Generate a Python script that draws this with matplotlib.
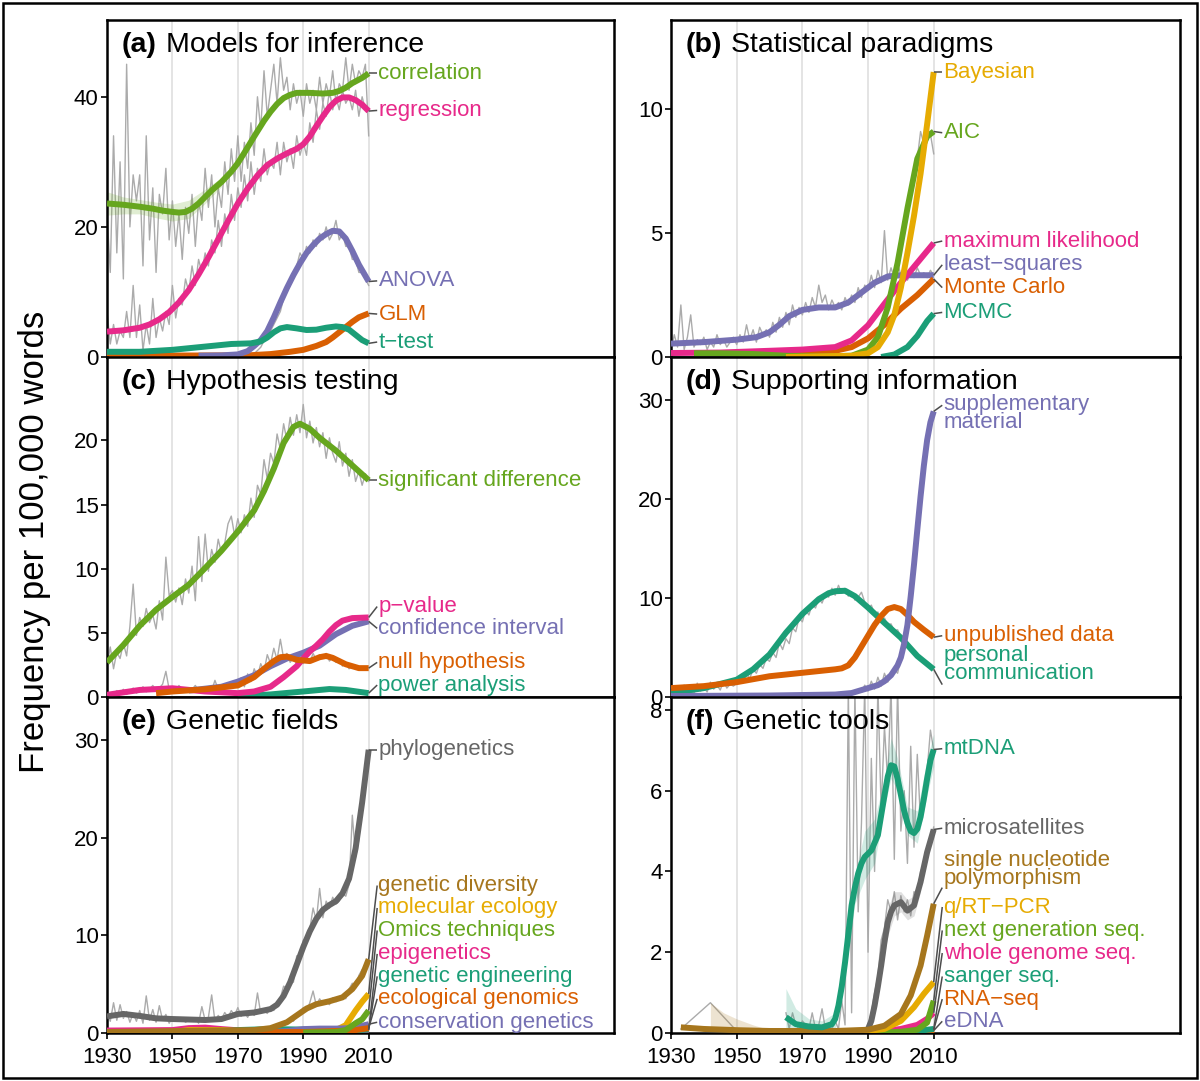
import numpy as np
import matplotlib
matplotlib.use('Agg')
import matplotlib.pyplot as plt
from matplotlib.patches import Rectangle

plt.rcParams['font.family'] = ['Liberation Sans', 'DejaVu Sans']

# Dark2 palette
TEAL, ORANGE, PURPLE, PINK = '#1B9E77', '#D95F02', '#7570B3', '#E7298A'
GREEN, YELLOW, BROWN, GRAY = '#66A61E', '#E6AB02', '#A6761D', '#666666'
RAW = '#ABABAB'
MINUS = '\u2212'

# %% (a) Models for inference -- smoothed trends
A_CORR_YR = [1930, 1935, 1940, 1944, 1947, 1950, 1952, 1954, 1956, 1958, 1960, 1962, 1965, 1968, 1970, 1972, 1975,
             1978, 1980, 1982, 1984, 1986, 1988, 1992, 1996, 1999, 2001, 2003, 2005, 2008, 2010]
A_CORR = [23.6, 23.4, 23.1, 22.8, 22.5, 22.3, 22.2, 22.3, 22.8, 23.6, 24.6, 25.6, 26.9, 28.5, 29.8, 31.4, 33.9,
          36.3, 37.7, 38.9, 39.8, 40.3, 40.6, 40.6, 40.5, 40.6, 40.9, 41.4, 42.1, 42.9, 43.6]
A_REGR_YR = [1930, 1935, 1940, 1943, 1946, 1949, 1952, 1955, 1958, 1961, 1964, 1967, 1970, 1973, 1976, 1979, 1982,
             1985, 1988, 1990, 1992, 1994, 1996, 1998, 2000, 2002, 2004, 2006, 2008, 2010]
A_REGR = [3.9, 4.1, 4.5, 5.0, 5.8, 6.9, 8.4, 10.3, 12.7, 15.3, 18.1, 20.9, 23.6, 25.9, 27.9, 29.5, 30.5,
          31.3, 32.0, 32.7, 33.9, 35.5, 37.0, 38.4, 39.4, 39.9, 39.9, 39.5, 38.8, 37.8]
A_ANOVA_YR = [1958, 1965, 1970, 1973, 1975, 1977, 1979, 1981, 1983, 1985, 1987, 1989, 1991, 1993, 1995, 1997, 1999,
              2001, 2003, 2005, 2007, 2010]
A_ANOVA = [0.2, 0.25, 0.4, 0.9, 1.7, 2.6, 4.0, 6.1, 8.4, 10.6, 12.6, 14.4, 16.0, 17.2, 18.2, 18.9, 19.4,
           19.3, 18.2, 16.3, 14.2, 11.6]
A_GLM_YR = [1930, 1973, 1980, 1986, 1990, 1994, 1997, 1999, 2001, 2003, 2005, 2007, 2010]
A_GLM = [0.2, 0.25, 0.45, 0.8, 1.1, 1.7, 2.3, 3.0, 3.8, 4.6, 5.4, 6.1, 6.7]
A_TTEST_YR = [1930, 1940, 1950, 1960, 1968, 1974, 1977, 1979, 1981, 1983, 1985, 1988, 1991, 1994, 1997, 2000,
              2002, 2004, 2006, 2008, 2010]
A_TTEST = [0.8, 0.8, 1.1, 1.6, 2.0, 2.1, 2.4, 3.0, 3.8, 4.4, 4.6, 4.4, 4.15, 4.2, 4.5, 4.7,
           4.6, 4.2, 3.4, 2.6, 2.1]
A_CORR_BAND_YR = [1930, 1935, 1940, 1945, 1950, 1955, 1960, 1965]
A_CORR_BAND_LO = [21.8, 22.0, 22.0, 21.4, 20.9, 21.3, 23.6, 26.2]
A_CORR_BAND_HI = [25.4, 24.6, 24.2, 23.8, 23.5, 24.1, 25.8, 27.6]
# yearly raw counts 1930-2010
A_CORR_RAW = [22, 13, 34, 16, 30, 12, 45, 20, 28, 24,
              28, 14, 34, 18, 26, 13, 25, 22, 29, 18,
              24, 17, 22, 15, 23, 19, 25, 17, 24, 21,
              29, 23, 28, 20, 26, 23, 30, 25, 32, 27,
              34, 27, 33, 29, 36, 31, 40, 35, 44, 37,
              41, 45, 39, 46, 41, 43, 38, 42, 39, 41,
              37, 42, 39, 41, 38, 43, 39, 42, 40, 44,
              39, 42, 41, 46, 41, 45, 42, 44, 43, 45,
              34]
A_REGR_RAW = [7, 2, 5, 2, 4, 3, 7, 3, 11, 3,
              8, 1, 5, 2, 9, 3, 6, 4, 7, 5,
              11, 6, 9, 8, 12, 10, 14, 11, 15, 13,
              16, 14, 18, 16, 21, 17, 22, 19, 25, 21,
              26, 23, 28, 24, 30, 25, 29, 27, 32, 28,
              30, 29, 33, 28, 33, 30, 32, 29, 34, 31,
              33, 31, 36, 33, 38, 35, 39, 37, 41, 38,
              40, 38, 41, 39, 40, 38, 41, 37, 40, 38,
              38]
A_ANOVA_RAW = [0.5, 1, 1.5, 2.5, 3, 4, 5, 6, 7, 9,
               10, 11, 13, 14, 16, 15, 17, 16, 18, 17,
               19, 18, 20, 18, 19, 21, 18, 19, 17, 17,
               15, 15, 13, 13, 12, 11]  # 1975-2010

# %% (b) Statistical paradigms
B_LSQ_YR = [1930, 1940, 1950, 1956, 1960, 1963, 1966, 1970, 1975, 1980, 1984, 1988, 1992, 1996, 2000, 2005, 2010]
B_LSQ = [0.54, 0.6, 0.7, 0.8, 1.0, 1.3, 1.65, 1.9, 2.0, 2.0, 2.2, 2.6, 3.0, 3.25, 3.3, 3.3, 3.3]
B_ML_YR = [1930, 1945, 1960, 1970, 1980, 1985, 1990, 1995, 2000, 2005, 2010]
B_ML = [0.16, 0.18, 0.25, 0.3, 0.4, 0.67, 1.28, 2.15, 3.0, 3.8, 4.6]
B_MC_YR = [1955, 1970, 1980, 1985, 1990, 1995, 2000, 2005, 2010]
B_MC = [0.05, 0.1, 0.25, 0.4, 0.75, 1.3, 1.95, 2.5, 3.15]
B_BAYES_YR = [1965, 1985, 1990, 1993, 1996, 1998, 2000, 2002, 2004, 2006, 2008, 2010]
B_BAYES = [0.0, 0.05, 0.15, 0.4, 1.0, 1.7, 2.8, 4.2, 5.7, 7.4, 9.4, 11.5]
B_AIC_YR = [1937, 1945, 1955, 1965, 1975, 1985, 1990, 1993, 1996, 1999, 2002, 2005, 2008, 2010]
B_AIC = [0.15, 0.15, 0.12, 0.05, 0.02, 0.05, 0.3, 0.8, 2.0, 3.8, 6.0, 8.0, 8.9, 9.1]
B_MCMC_YR = [1994, 1998, 2002, 2005, 2008, 2010]
B_MCMC = [0.0, 0.1, 0.4, 0.85, 1.45, 1.75]
B_LSQ_RAW = [0.3, 0.9, 0.4, 2.1, 0.3, 0.8, 1.7, 0.4, 0.7, 0.5,
             0.8, 0.3, 0.6, 0.4, 0.9, 0.5, 0.7, 0.4, 0.6, 0.8,
             0.5, 0.9, 0.6, 1.3, 0.7, 1.1, 0.6, 1.2, 0.9, 1.1,
             0.8, 1.4, 1.0, 1.6, 1.2, 1.8, 1.3, 2.1, 1.6, 2.0,
             1.7, 2.2, 1.8, 2.4, 2.0, 2.9, 2.2, 2.5, 1.9, 2.3,
             2.0, 2.2, 1.9, 2.4, 2.1, 2.5, 2.2, 2.8, 2.4, 2.9,
             2.7, 3.3, 2.8, 3.5, 3.0, 5.1, 3.1, 3.6, 3.2, 3.8,
             3.3, 3.5, 3.1, 3.4, 3.2, 3.6, 3.3, 3.4, 3.2, 3.5,
             3.3]
B_AIC_RAW = [1.2, 1.8, 2.6, 3.0, 3.8, 4.5, 5.2, 5.9, 6.8, 7.5, 8.0, 9.1, 8.6, 8.8, 9.0, 8.2]  # 1995-2010

# %% (c) Hypothesis testing
C_SIG_YR = [1930, 1935, 1940, 1945, 1950, 1955, 1960, 1965, 1970, 1975, 1978, 1981, 1984, 1987, 1989, 1992,
            1995, 2000, 2005, 2010]
C_SIG = [2.7, 4.05, 5.55, 6.8, 7.8, 8.75, 10.05, 11.4, 12.9, 14.55, 16.05, 17.8, 19.8, 21.05, 21.3, 20.9,
         20.2, 19.2, 18.05, 16.9]
C_PVAL_YR = [1930, 1940, 1950, 1960, 1970, 1975, 1980, 1984, 1988, 1990, 1992, 1994, 1996, 1998, 2000, 2002,
             2005, 2010]
C_PVAL = [0.17, 0.55, 0.68, 0.43, 0.3, 0.43, 0.8, 1.55, 2.4, 3.0, 3.55, 4.0, 4.5, 5.1, 5.6, 5.95, 6.15, 6.2]
C_CI_YR = [1955, 1965, 1970, 1975, 1980, 1985, 1990, 1995, 2000, 2005, 2010]
C_CI = [0.5, 0.8, 1.2, 1.7, 2.4, 3.0, 3.45, 4.0, 4.9, 5.55, 5.9]
C_NULL_YR = [1945, 1950, 1960, 1970, 1975, 1978, 1981, 1983, 1985, 1988, 1992, 1995, 1997, 1999, 2003, 2007, 2010]
C_NULL = [0.3, 0.43, 0.6, 0.9, 1.55, 2.2, 2.8, 3.1, 3.15, 2.9, 2.8, 3.1, 3.2, 3.05, 2.55, 2.25, 2.25]
C_POWER_YR = [1970, 1980, 1990, 1998, 2003, 2010]
C_POWER = [0.05, 0.2, 0.43, 0.62, 0.55, 0.3]
C_SIG_RAW = [2.5, 3.9, 2.2, 3.5, 3.0, 4.2, 3.2, 5.5, 8.8, 4.8,
             6.2, 5.5, 6.9, 5.8, 6.4, 5.3, 7.5, 6.0, 10.9, 7.9,
             8.3, 7.4, 8.5, 7.2, 9.2, 8.1, 10.2, 7.5, 12.5, 9.0,
             12.7, 9.8, 11.5, 10.5, 12.3, 11.2, 12.0, 13.5, 14.1, 12.6,
             13.9, 12.8, 14.2, 13.3, 15.5, 14.0, 16.5, 15.8, 18.5, 17.0,
             19.0, 18.2, 20.5, 19.3, 21.3, 20.0, 21.8, 20.4, 22.0, 20.6,
             22.8, 20.2, 21.5, 19.8, 21.0, 19.5, 20.6, 18.6, 20.2, 19.0,
             18.3, 19.9, 18.0, 19.0, 17.2, 18.5, 16.8, 17.6, 16.5, 17.4,
             16.8]
C_LOW_RAW = [0.1, 0.3, 0.2, 0.5, 0.3, 0.6, 0.2, 0.4, 0.7, 0.3,
             0.5, 0.8, 0.4, 0.6, 0.9, 0.5, 0.7, 1.0, 2.0, 0.6,
             0.8, 0.5, 0.9, 0.6, 0.7, 0.4, 0.6, 0.9, 0.5, 0.7,
             0.4, 0.8, 0.5, 1.3, 0.6, 0.9, 0.7, 1.1, 0.8, 1.2]  # 1930-1969
C_NULL_RAW = [1.0, 1.5, 0.8, 1.8, 1.2, 2.2, 1.6, 2.6, 2.0, 3.3,
              2.6, 3.8, 2.9, 4.5, 3.0, 3.4, 2.7, 3.1, 2.5, 2.9,
              2.6, 3.1, 2.7, 3.4, 2.9, 3.3, 3.0, 3.4, 2.8, 3.1,
              2.7, 2.9, 2.4, 2.6, 2.2, 2.4]  # 1970-2005

# %% (d) Supporting information
D_PERS_YR = [1930, 1940, 1950, 1955, 1960, 1965, 1970, 1975, 1978, 1980, 1983, 1986, 1990, 1995, 2000, 2005, 2010]
D_PERS = [0.4, 0.9, 1.75, 2.8, 4.3, 6.5, 8.4, 9.9, 10.5, 10.7, 10.75, 10.2, 9.05, 7.5, 6.0, 4.15, 2.8]
D_UNPUB_YR = [1930, 1940, 1950, 1960, 1970, 1980, 1982, 1984, 1986, 1988, 1990, 1992, 1994, 1996, 1998, 2000,
              2002, 2004, 2007, 2010]
D_UNPUB = [0.9, 1.1, 1.5, 2.1, 2.45, 2.8, 2.9, 3.2, 4.0, 5.1, 6.2, 7.3, 8.2, 8.9, 9.1, 8.9,
           8.3, 7.6, 6.8, 6.05]
D_SUPP_YR = [1930, 1960, 1980, 1985, 1990, 1993, 1995, 1997, 1999, 2000, 2001, 2002, 2003, 2004, 2005, 2006,
             2007, 2008, 2009, 2010]
D_SUPP = [0.1, 0.15, 0.25, 0.4, 0.9, 1.2, 1.6, 2.2, 3.2, 4.0, 5.4, 7.3, 10.2, 13.4, 16.9, 20.3,
          23.4, 26.0, 27.8, 28.9]
D_PERS_RAW = [0.6, 0.2, 0.9, 0.4, 1.2, 0.5, 0.8, 0.3, 1.4, 0.6,
              1.0, 0.5, 1.5, 0.8, 1.2, 0.7, 1.6, 0.9, 1.3, 1.1,
              1.4, 2.0, 1.5, 2.3, 1.9, 2.8, 2.4, 3.3, 2.9, 3.9,
              3.6, 4.5, 4.0, 5.5, 4.8, 5.9, 5.4, 7.0, 6.6, 8.0,
              7.6, 8.8, 8.3, 9.4, 9.0, 10.0, 9.5, 10.4, 10.1, 11.0,
              10.3, 11.3, 10.5, 11.0, 10.2, 10.6, 9.8, 10.1, 10.6, 9.6,
              8.8, 9.3, 8.4, 8.6, 7.8, 8.0, 7.3, 7.4, 6.7, 6.8,
              6.1]  # 1930-2000
D_SUPP_RAW = [0.5, 1.2, 0.6, 1.6, 0.8, 2.0, 1.1, 2.4, 1.5, 2.2, 2.8, 2.4, 3.9, 5.2, 7.0]  # 1988-2002

# %% (e) Genetic fields
E_PHYLO_YR = [1930, 1935, 1940, 1945, 1950, 1960, 1965, 1970, 1975, 1980, 1982, 1984, 1986, 1988, 1990, 1992,
              1994, 1996, 1998, 2000, 2002, 2004, 2006, 2008, 2010]
E_PHYLO = [1.7, 1.95, 1.75, 1.5, 1.43, 1.33, 1.43, 1.95, 2.1, 2.45, 2.9, 3.8, 5.2, 7.0, 8.8, 10.4,
           11.7, 12.6, 13.1, 13.5, 14.3, 15.8, 18.9, 23.6, 29.0]
E_GDIV_YR = [1930, 1975, 1980, 1985, 1988, 1991, 1994, 1998, 2002, 2005, 2008, 2010]
E_GDIV = [0.1, 0.3, 0.5, 1.1, 1.8, 2.5, 2.95, 3.25, 3.65, 4.5, 5.85, 7.55]
E_MOLEC_YR = [1950, 1955, 1965, 1975, 1995, 2000, 2003, 2006, 2008, 2010]
E_MOLEC = [0.1, 0.3, 0.3, 0.1, 0.1, 0.3, 0.8, 2.3, 3.2, 4.0]
E_OMICS_YR = [1990, 2000, 2003, 2006, 2008, 2010]
E_OMICS = [0.05, 0.1, 0.3, 1.0, 1.4, 2.3]
E_EPI_YR = [1930, 1950, 1955, 1960, 1965, 1975, 1990, 2000, 2005, 2010]
E_EPI = [0.25, 0.3, 0.5, 0.55, 0.4, 0.15, 0.1, 0.15, 0.2, 0.3]
E_GENG_YR = [1960, 1966, 1970, 1980, 1990, 2000, 2010]
E_GENG = [0.0, 0.15, 0.3, 0.4, 0.35, 0.2, 0.35]
E_ECOG_YR = [1930, 1990, 2000, 2005, 2010]
E_ECOG = [0.05, 0.1, 0.2, 0.25, 0.5]
E_CONS_YR = [1975, 1985, 1990, 1995, 2000, 2005, 2010]
E_CONS = [0.0, 0.2, 0.4, 0.45, 0.45, 0.5, 0.9]
E_PHYLO_RAW = [2.2, 1.2, 3.1, 1.3, 2.9, 1.5, 2.2, 1.1, 2.0, 1.2,
               2.3, 1.0, 3.8, 1.3, 2.4, 1.1, 2.8, 1.3, 1.9, 1.0,
               1.6, 1.3, 1.2, 1.5, 1.1, 1.3, 1.2, 1.5, 1.0, 2.7,
               1.3, 1.6, 3.9, 1.2, 1.8, 1.4, 2.1, 1.6, 2.3, 1.8,
               2.6, 1.7, 2.1, 1.6, 2.2, 1.8, 4.1, 2.0, 2.3, 2.0,
               2.6, 2.3, 3.0, 3.6, 4.8, 4.5, 5.8, 5.2, 7.9, 7.5,
               9.5, 9.8, 10.6, 12.8, 11.5, 14.8, 11.8, 13.5, 12.8, 13.9,
               13.2, 13.5, 14.3, 14.0, 15.2, 22.3, 18.0, 19.8, 23.5, 26.0,
               29.0]
E_GDIV_RAW = [1.0, 1.5, 1.2, 1.8, 2.0, 2.6, 2.2, 3.1, 4.3, 2.8,
              3.5, 3.0, 3.3, 2.9, 3.6, 3.2, 3.4, 3.8, 3.5, 4.5,
              5.1, 4.6, 5.9, 6.5, 6.8, 7.5]  # 1985-2010

# %% (f) Genetic tools
F_MTDNA_YR = [1965, 1968, 1972, 1976, 1979, 1980, 1981, 1982, 1983, 1984, 1985, 1986, 1987, 1988, 1989, 1991,
              1993, 1995, 1996, 1997, 1998, 1999, 2000, 2001, 2002, 2003, 2004, 2005, 2006, 2007, 2008, 2009, 2010]
F_MTDNA = [0.39, 0.22, 0.16, 0.14, 0.22, 0.35, 0.68, 1.15, 1.75, 2.45, 3.16, 3.6, 3.95, 4.2, 4.36, 4.52,
           4.9, 5.88, 6.35, 6.63, 6.6, 6.3, 5.9, 5.5, 5.2, 5.0, 4.95, 5.05, 5.35, 5.8, 6.3, 6.75, 7.02]
F_MICRO_YR = [1990, 1991, 1992, 1993, 1994, 1995, 1996, 1997, 1998, 2000, 2002, 2004, 2006, 2008, 2010]
F_MICRO = [0.1, 0.3, 0.68, 1.15, 1.67, 2.25, 2.74, 3.0, 3.16, 3.24, 3.03, 3.16, 3.74, 4.48, 5.04]
F_SNP_YR = [1933, 1940, 1950, 1960, 1970, 1980, 1990, 1995, 2000, 2003, 2006, 2008, 2010]
F_SNP = [0.14, 0.1, 0.07, 0.05, 0.05, 0.05, 0.08, 0.18, 0.47, 0.93, 1.67, 2.41, 3.2]
F_QPCR_YR = [1985, 1990, 1995, 2000, 2004, 2007, 2010]
F_QPCR = [0.0, 0.05, 0.1, 0.3, 0.64, 0.97, 1.26]
F_NGS_YR = [1990, 2000, 2005, 2008, 2010]
F_NGS = [0.0, 0.03, 0.08, 0.26, 0.8]
F_WGS_YR = [1986, 1995, 2000, 2005, 2008, 2010]
F_WGS = [0.0, 0.05, 0.1, 0.2, 0.35, 0.5]
F_SANGER_YR = [1992, 2000, 2005, 2010]
F_SANGER = [0.0, 0.05, 0.05, 0.1]
F_RNA_YR = [2005, 2008, 2010]
F_RNA = [0.0, 0.02, 0.08]
F_EDNA_YR = [1993, 2000, 2005, 2010]
F_EDNA = [0.05, 0.05, 0.05, 0.06]
F_MT_BAND_YR = [1965, 1968, 1972, 1976, 1980, 1983, 1986, 1989, 1992, 1995, 1997, 1999, 2002, 2005, 2008, 2010]
F_MT_BAND_LO = [0.0, 0.0, 0.05, 0.05, 0.1, 1.4, 3.2, 3.8, 4.2, 5.6, 6.3, 6.0, 4.9, 4.7, 5.9, 6.6]
F_MT_BAND_HI = [1.1, 0.6, 0.35, 0.3, 0.5, 2.2, 3.9, 5.0, 5.3, 6.3, 7.3, 6.8, 5.6, 5.5, 6.8, 7.4]
F_MICRO_BAND_YR = [1994, 1996, 1998, 2000, 2002, 2004, 2006]
F_MICRO_BAND_LO = [1.4, 2.4, 2.9, 3.0, 2.8, 2.9, 3.5]
F_MICRO_BAND_HI = [1.9, 3.1, 3.5, 3.5, 3.3, 3.4, 4.0]
F_SNP_BAND_YR = [1942, 1946, 1950, 1955, 1960]
F_SNP_BAND_LO = [0.05, 0.05, 0.05, 0.04, 0.04]
F_SNP_BAND_HI = [0.75, 0.5, 0.35, 0.2, 0.08]
F_SNP_RAW_YR = [1933, 1942, 1950]
F_SNP_RAW = [0.1, 0.75, 0.05]
F_MTDNA_RAW = [0.5, 0.1, 0.5, 0.2, 0.1, 0.3, 0.2, 0.1, 0.5, 0.1,
               0.2, 0.6, 0.1, 0.2, 0.1, 0.3, 0.1, 0.8, 0.2, 8.6,
               0.5, 8.6, 3.0, 5.2, 8.6, 2.0, 6.8, 4.0, 8.6, 5.5,
               7.6, 6.2, 8.6, 4.3, 8.6, 5.0, 6.0, 4.2, 7.1, 4.6,
               6.9, 5.2, 6.0, 6.5, 7.5, 7.0]  # 1965-2010
F_MICRO_RAW = [0.2, 0.5, 1.0, 1.4, 2.3, 2.6, 3.3, 3.0, 3.5, 2.8,
               3.4, 3.0, 3.3, 2.9, 3.5, 3.4, 4.0, 4.2, 4.6, 4.8, 5.1]  # 1990-2010


def yrs(start, vals):
    return np.arange(start, start + len(vals))


# panel specs: (yrs, vals, colour, label, label_y)
PANELS = [
    dict(letter='(a)', title='Models for inference', ymax=51.8, yticks=[0, 20, 40],
         raw=[(yrs(1930, A_CORR_RAW), A_CORR_RAW), (yrs(1930, A_REGR_RAW), A_REGR_RAW),
              (yrs(1975, A_ANOVA_RAW), A_ANOVA_RAW)],
         bands=[(A_CORR_BAND_YR, A_CORR_BAND_LO, A_CORR_BAND_HI, GREEN)],
         series=[(A_GLM_YR, A_GLM, ORANGE, 'GLM', 6.6),
                 (A_ANOVA_YR, A_ANOVA, PURPLE, 'ANOVA', 11.7),
                 (A_TTEST_YR, A_TTEST, TEAL, 't' + MINUS + 'test', 2.3),
                 (A_CORR_YR, A_CORR, GREEN, 'correlation', 43.6),
                 (A_REGR_YR, A_REGR, PINK, 'regression', 37.9)]),
    dict(letter='(b)', title='Statistical paradigms', ymax=13.6, yticks=[0, 5, 10],
         raw=[(yrs(1930, B_LSQ_RAW), B_LSQ_RAW), (yrs(1995, B_AIC_RAW), B_AIC_RAW)],
         bands=[],
         series=[(B_LSQ_YR, B_LSQ, PURPLE, 'least' + MINUS + 'squares', 3.72),
                 (B_MCMC_YR, B_MCMC, TEAL, 'MCMC', 1.8),
                 (B_MC_YR, B_MC, ORANGE, 'Monte Carlo', 2.8),
                 (B_ML_YR, B_ML, PINK, 'maximum likelihood', 4.68),
                 (B_AIC_YR, B_AIC, GREEN, 'AIC', 9.05),
                 (B_BAYES_YR, B_BAYES, YELLOW, 'Bayesian', 11.5)]),
    dict(letter='(c)', title='Hypothesis testing', ymax=26.5, yticks=[0, 5, 10, 15, 20],
         raw=[(yrs(1930, C_SIG_RAW), C_SIG_RAW), (yrs(1930, C_LOW_RAW), C_LOW_RAW),
              (yrs(1970, C_NULL_RAW), C_NULL_RAW)],
         bands=[],
         series=[(C_SIG_YR, C_SIG, GREEN, 'significant difference', 16.9),
                 (C_POWER_YR, C_POWER, TEAL, 'power analysis', 0.93),
                 (C_CI_YR, C_CI, PURPLE, 'confidence interval', 5.35),
                 (C_PVAL_YR, C_PVAL, PINK, 'p' + MINUS + 'value', 7.05),
                 (C_NULL_YR, C_NULL, ORANGE, 'null hypothesis', 2.7)]),
    dict(letter='(d)', title='Supporting information', ymax=34.4, yticks=[0, 10, 20, 30],
         raw=[(yrs(1930, D_PERS_RAW), D_PERS_RAW), (yrs(1988, D_SUPP_RAW), D_SUPP_RAW)],
         bands=[],
         series=[(D_PERS_YR, D_PERS, TEAL, 'personal\ncommunication', 3.3),
                 (D_UNPUB_YR, D_UNPUB, ORANGE, 'unpublished data', 6.2),
                 (D_SUPP_YR, D_SUPP, PURPLE, 'supplementary\nmaterial', 28.7)]),
    dict(letter='(e)', title='Genetic fields', ymax=34.4, yticks=[0, 10, 20, 30],
         raw=[(yrs(1930, E_PHYLO_RAW), E_PHYLO_RAW), (yrs(1985, E_GDIV_RAW), E_GDIV_RAW)],
         bands=[],
         series=[(E_PHYLO_YR, E_PHYLO, GRAY, 'phylogenetics', 29.0),
                 (E_EPI_YR, E_EPI, PINK, 'epigenetics', 8.1),
                 (E_MOLEC_YR, E_MOLEC, YELLOW, 'molecular ecology', 12.8),
                 (E_GENG_YR, E_GENG, TEAL, 'genetic engineering', 5.8),
                 (E_CONS_YR, E_CONS, PURPLE, 'conservation genetics', 1.1),
                 (E_ECOG_YR, E_ECOG, ORANGE, 'ecological genomics', 3.5),
                 (E_OMICS_YR, E_OMICS, GREEN, 'Omics techniques', 10.5),
                 (E_GDIV_YR, E_GDIV, BROWN, 'genetic diversity', 15.1)]),
    dict(letter='(f)', title='Genetic tools', ymax=8.32, yticks=[0, 2, 4, 6, 8],
         raw=[(yrs(1965, F_MTDNA_RAW), F_MTDNA_RAW), (yrs(1990, F_MICRO_RAW), F_MICRO_RAW),
              (F_SNP_RAW_YR, F_SNP_RAW)],
         bands=[(F_MT_BAND_YR, F_MT_BAND_LO, F_MT_BAND_HI, TEAL),
                (F_MICRO_BAND_YR, F_MICRO_BAND_LO, F_MICRO_BAND_HI, GRAY),
                (F_SNP_BAND_YR, F_SNP_BAND_LO, F_SNP_BAND_HI, BROWN)],
         series=[(F_EDNA_YR, F_EDNA, PURPLE, 'eDNA', 0.29),
                 (F_RNA_YR, F_RNA, ORANGE, 'RNA' + MINUS + 'seq', 0.84),
                 (F_SANGER_YR, F_SANGER, TEAL, 'sanger seq.', 1.4),
                 (F_WGS_YR, F_WGS, PINK, 'whole genome seq.', 1.98),
                 (F_NGS_YR, F_NGS, GREEN, 'next generation seq.', 2.54),
                 (F_QPCR_YR, F_QPCR, YELLOW, 'q/RT' + MINUS + 'PCR', 3.12),
                 (F_MICRO_YR, F_MICRO, GRAY, 'microsatellites', 5.07),
                 (F_SNP_YR, F_SNP, BROWN, 'single nucleotide\npolymorphism', 4.05),
                 (F_MTDNA_YR, F_MTDNA, TEAL, 'mtDNA', 7.04)]),
]

# two-line labels: leader meets the label off-centre (in data units)
LEADER_SHIFT = {'supplementary\nmaterial': 0.2, 'personal\ncommunication': -0.5,
                'single nucleotide\npolymorphism': -0.45}

W, H = 1200, 1081
fig = plt.figure(figsize=(W / 100, H / 100), dpi=100)
fig.add_artist(Rectangle((3 / W, 3 / H), 1 - 6 / W, 1 - 6 / H, transform=fig.transFigure,
                         fill=False, lw=1.8, ec='black'))

col_x = [(107, 507), (671, 509)]
row_y = [(20, 357), (357, 697), (697, 1033)]

for i, p in enumerate(PANELS):
    r, c = divmod(i, 2)
    x0, w = col_x[c]
    top, bot = row_y[r]
    ax = fig.add_axes([x0 / W, 1 - bot / H, w / W, (bot - top) / H])
    ax.set_xlim(1930, 2085)
    ax.set_ylim(0, p['ymax'])
    for g in [1950, 1970, 1990, 2010]:
        ax.axvline(g, color='#DCDCDC', lw=1.1, zorder=0)
    for xr, yr in p['raw']:
        ax.plot(xr, yr, color=RAW, lw=1.0, zorder=1)
    for by, lo, hi, col in p['bands']:
        ax.fill_between(by, lo, hi, color=col, alpha=0.2, lw=0, zorder=1.5)
    for k, (sx, sy, col, lab, ly) in enumerate(p['series']):
        ax.plot(sx, sy, color=col, lw=4.3, zorder=3 + k * 0.01,
                solid_capstyle='butt', solid_joinstyle='round')
        lead_y = ly + LEADER_SHIFT.get(lab, 0) * (1 if i == 5 else 4.1)
        ax.plot([2010, 2012.6], [sy[-1], lead_y], color='#4D4D4D', lw=1.1, zorder=4,
                solid_capstyle='butt')
        ax.text(2013, ly, lab, color=col, fontsize=16, ha='left', va='center',
                linespacing=0.78, zorder=5)

    t = ax.text(0.028, 0.925, p['letter'], transform=ax.transAxes, fontsize=20.5,
                fontweight='bold', va='center', ha='left')
    ax.annotate(p['title'], xy=(1, 0.5), xycoords=t, xytext=(7, 0), textcoords='offset points',
                fontsize=20.5, va='center', ha='left')

    for s in ax.spines.values():
        s.set_linewidth(1.8)
    ax.set_yticks(p['yticks'])
    ax.set_xticks([1930, 1950, 1970, 1990, 2010])
    ax.tick_params(axis='y', length=4, width=1.2, labelsize=16, pad=2)
    if r == 2:
        ax.tick_params(axis='x', length=4, width=1.2, labelsize=16, pad=6)
    else:
        ax.tick_params(axis='x', length=0, labelbottom=False)

fig.text(0.029, 1 - 542 / H, 'Frequency per 100,000 words', rotation=90, fontsize=25,
         ha='center', va='center')

fig.savefig('out.png', dpi=100)
